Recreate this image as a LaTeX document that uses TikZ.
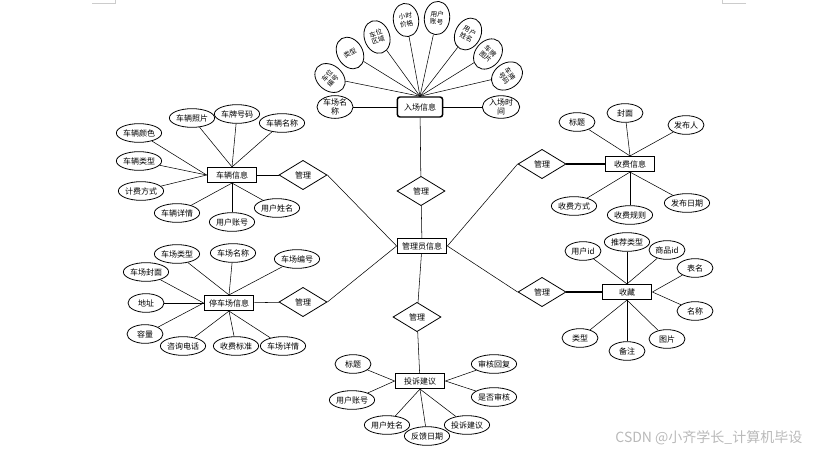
\documentclass[tikz,border=0pt]{standalone}
\usepackage{fontspec}
\setmainfont{Noto Sans CJK SC}
\usetikzlibrary{shapes,positioning}

\begin{document}
\begin{tikzpicture}[x=0.75pt,y=-0.75pt,font=\fontsize{6}{7}\selectfont]%
\tikzstyle{entity}=[rectangle,draw,line width=1.1pt,minimum width=37pt,minimum height=11pt,inner sep=1pt]
\tikzstyle{attr}=[ellipse,draw,line width=0.6pt,minimum width=33pt,minimum height=14pt,inner sep=0pt]
\tikzstyle{short}=[attr,minimum width=27pt]
\tikzstyle{fan}=[ellipse,draw,line width=0.6pt,minimum width=19pt,minimum height=25pt,inner sep=0pt,align=center,font=\fontsize{5}{5.5}\selectfont]
\tikzstyle{rel}=[diamond,draw,line width=0.6pt,minimum width=36pt,minimum height=22pt,inner sep=0pt]
\useasboundingbox (0,0) rectangle (814,454);
% page corner marks
\draw[gray!40] (92,3) -- (115,3) -- (115,0);
\draw[gray!40] (746,3) -- (722,3) -- (722,0);

% centre
\node[entity] (admin) at (422,246) {管理员信息};

% entrance
\node[entity,rounded corners=2pt,minimum width=34pt,minimum height=15pt] (ru) at (420,107) {入场信息};
\node[attr,minimum width=27pt,minimum height=15pt,align=center,font=\fontsize{6}{6.5}\selectfont] (ru1) at (335,107) {车场名\\称};
\node[attr,minimum width=28pt,minimum height=15pt,align=center,font=\fontsize{6}{6.5}\selectfont] (ru2) at (501,107) {入场时\\间};
\node[fan,rotate=50] (f1) at (330,78) {车位\\编号};
\node[fan,rotate=30] (f2) at (350,53) {类型};
\node[fan,rotate=18] (f3) at (377,37) {车位\\区域};
\node[fan,rotate=8] (f4) at (406,20) {小时\\价格};
\node[fan,rotate=-6] (f5) at (437,18) {用户\\账号};
\node[fan,rotate=-28] (f6) at (468,34) {用户\\姓名};
\node[fan,rotate=-40] (f7) at (488,54) {车牌\\图片};
\node[fan,rotate=-55] (f8) at (507,76) {车牌\\号码};
\draw (ru1) -- (ru);
\draw (ru2) -- (ru);
\draw (ru.north) -- (f1);
\draw (ru.north) -- (f2);
\draw (ru.north) -- (f3);
\draw (ru.north) -- (f4);
\draw (ru.north) -- (f5);
\draw (ru.north) -- (f6);
\draw (ru.north) -- (f7);
\draw (ru.north) -- (f8);
\node[rel] (rtop) at (421,191) {管理};
\draw (ru) -- (rtop);
\draw (rtop) -- (admin);

% vehicle
\node[entity] (car) at (232,175) {车辆信息};
\node[attr] (car1) at (192,118) {车辆照片};
\node[attr] (car2) at (237,114) {车牌号码};
\node[attr] (car3) at (282,123) {车辆名称};
\node[attr] (car4) at (139,133) {车辆颜色};
\node[attr] (car5) at (139,161) {车辆类型};
\node[attr] (car6) at (141,191) {计费方式};
\node[attr] (car7) at (177,213) {车辆详情};
\node[attr] (car8) at (232,222) {用户账号};
\node[attr] (car9) at (277,208) {用户姓名};
\draw (car1) -- (car.north);
\draw (car2) -- (car.north);
\draw (car3) -- (car.north);
\draw (car4) -- (car.west);
\draw (car5) -- (car.west);
\draw (car6) -- (car.west);
\draw (car7) -- (car.south);
\draw (car8) -- (car.south);
\draw (car9) -- (car.south);
\node[rel] (rcar) at (303,175) {管理};
\draw (car) -- (rcar);
\draw (rcar.east) -- (admin.west);

% parking lot
\node[entity] (park) at (229,303) {停车场信息};
\node[attr] (park1) at (177,254) {车场类型};
\node[attr] (park2) at (233,253) {车场名称};
\node[attr] (park3) at (297,259) {车场编号};
\node[attr] (park4) at (146,272) {车场封面};
\node[short] (park5) at (146,303) {地址};
\node[short] (park6) at (145,334) {容量};
\node[attr] (park7) at (183,346) {咨询电话};
\node[attr] (park8) at (236,346) {收费标准};
\node[attr] (park9) at (283,346) {车场详情};
\draw (park1) -- (park.north);
\draw (park2) -- (park.north);
\draw (park3) -- (park.north);
\draw (park4) -- (park.west);
\draw (park5) -- (park.west);
\draw (park6) -- (park.west);
\draw (park7) -- (park.south);
\draw (park8) -- (park.south);
\draw (park9) -- (park.south);
\node[rel] (rpark) at (303,302) {管理};
\draw (park) -- (rpark);
\draw (rpark.east) -- (admin.west);

% fees
\node[entity] (fee) at (630,164) {收费信息};
\node[short] (fee1) at (577,122) {标题};
\node[short] (fee2) at (625,113) {封面};
\node[short] (fee3) at (686,125) {发布人};
\node[attr] (fee4) at (574,206) {收费方式};
\node[attr] (fee5) at (630,215) {收费规则};
\node[attr] (fee6) at (687,203) {发布日期};
\draw (fee1) -- (fee.north);
\draw (fee2) -- (fee.north);
\draw (fee3) -- (fee.north);
\draw (fee4) -- (fee.south);
\draw (fee5) -- (fee.south);
\draw (fee6) -- (fee.south);
\node[rel] (rfee) at (542,164) {管理};
\draw[line width=1pt] (fee) -- (rfee);
\draw (rfee.west) -- (admin.east);

% favourites
\node[entity] (fav) at (627,292) {收藏};
\node[short] (fav1) at (583,251) {用户id};
\node[attr] (fav2) at (627,242) {推荐类型};
\node[short] (fav3) at (667,250) {商品id};
\node[short] (fav4) at (695,268) {表名};
\node[short] (fav5) at (695,311) {名称};
\node[short] (fav6) at (580,338) {类型};
\node[short] (fav7) at (627,351) {备注};
\node[short] (fav8) at (667,339) {图片};
\draw (fav1) -- (fav.north);
\draw (fav2) -- (fav.north);
\draw (fav3) -- (fav.north);
\draw (fav4) -- (fav.east);
\draw (fav5) -- (fav.east);
\draw (fav6) -- (fav.south);
\draw (fav7) -- (fav.south);
\draw (fav8) -- (fav.south);
\node[rel] (rfav) at (542,292) {管理};
\draw[line width=1pt] (fav) -- (rfav);
\draw (rfav.west) -- (admin.east);

% complaints
\node[entity] (cmp) at (420,381) {投诉建议};
\node[short] (cmp1) at (353,364) {标题};
\node[attr] (cmp2) at (352,400) {用户账号};
\node[attr] (cmp3) at (387,425) {用户姓名};
\node[attr] (cmp4) at (427,436) {反馈日期};
\node[attr] (cmp5) at (467,425) {投诉建议};
\node[attr] (cmp6) at (494,364) {审核回复};
\node[attr] (cmp7) at (494,397) {是否审核};
\draw (cmp1) -- (cmp.west);
\draw (cmp2) -- (cmp.west);
\draw (cmp3) -- (cmp.south);
\draw (cmp4) -- (cmp.south);
\draw (cmp5) -- (cmp.south);
\draw (cmp6) -- (cmp.east);
\draw (cmp7) -- (cmp.east);
\node[rel] (rcmp) at (417,317) {管理};
\draw (admin) -- (rcmp);
\draw (rcmp) -- (cmp);

\node[text=gray!55,font=\fontsize{10.5}{12}\selectfont,anchor=east] (mark) at (807,438) {CSDN @小齐学长\_计算机毕设};
\end{tikzpicture}
\end{document}
